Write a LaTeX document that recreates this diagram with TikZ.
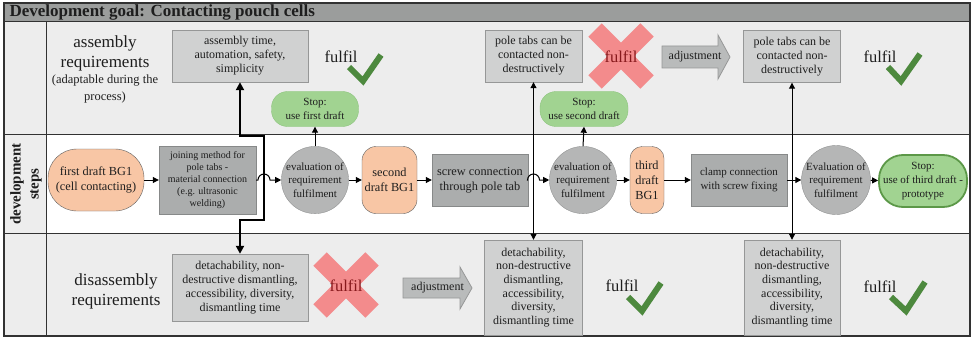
\documentclass[tikz,border=0pt]{standalone}
\usepackage{fontspec}
\setmainfont{Liberation Serif}
\usetikzlibrary{arrows.meta,calc,positioning}
\definecolor{lanegray}{RGB}{237,237,237}
\definecolor{titlegray}{RGB}{155,157,156}
\definecolor{frameline}{RGB}{50,50,50}
\definecolor{boxlight}{RGB}{208,209,209}
\definecolor{boxline}{RGB}{150,151,151}
\definecolor{boxdark}{RGB}{171,173,173}
\definecolor{darkline}{RGB}{135,137,137}
\definecolor{evalfill}{RGB}{181,182,182}
\definecolor{evalline}{RGB}{145,146,146}
\definecolor{draftfill}{RGB}{248,198,165}
\definecolor{draftline}{RGB}{95,95,95}
\definecolor{stopfill}{RGB}{161,211,145}
\definecolor{stopline}{RGB}{140,196,125}
\definecolor{stopdark}{RGB}{92,152,72}
\definecolor{checkgreen}{RGB}{77,137,62}
\definecolor{crossred}{RGB}{243,139,140}
\definecolor{failred}{RGB}{135,25,28}
\definecolor{adjfill}{RGB}{185,187,187}
\definecolor{txt}{RGB}{30,30,30}

\begin{document}
\begin{tikzpicture}[x=1pt, y=-1pt, every node/.style={align=center, text=txt}]
  \tikzset{
    lane/.style={draw=frameline, line width=0.9pt},
    reqbox/.style={draw=boxline, fill=boxlight, inner sep=1pt, font=\fontsize{12}{14}\selectfont},
    stepbox/.style={draw=darkline, fill=boxdark, inner sep=1pt},
    evalnode/.style={circle, draw=evalline, fill=evalfill, minimum size=67pt, inner sep=0pt, font=\fontsize{11}{13.5}\selectfont},
    draftnode/.style={draw=draftline, fill=draftfill, inner sep=1pt, font=\fontsize{12.3}{15}\selectfont},
    stopnode/.style={draw=stopline, fill=stopfill, rounded corners=16pt, minimum width=87pt, minimum height=35pt, inner sep=1pt, font=\fontsize{11}{14}\selectfont},
    bigtext/.style={font=\fontsize{17}{20}\selectfont},
    fulfiltext/.style={font=\fontsize{16.5}{18}\selectfont},
    failtext/.style={font=\fontsize{16.5}{18}\selectfont, text=failred},
    checkmark/.style={draw=checkgreen, line width=6pt, line join=miter},
    redcross/.style={draw=crossred, line width=19pt},
    adjarrow/.style={draw=boxline, fill=adjfill, line width=0.8pt},
    conn/.style={-{Triangle[length=6pt,width=6pt]}, line width=1pt},
    bothconn/.style={{Triangle[length=6pt,width=6pt]}-{Triangle[length=6pt,width=6pt]}, line width=1pt},
    mainconn/.style={{Triangle[length=8pt,width=8pt]}-{Triangle[length=8pt,width=8pt]}, line width=2pt}
  }
  \useasboundingbox (0,0) rectangle (973,342);

  % swimlanes
  \fill[lanegray] (4,21) rectangle (970,336);
  \fill[white] (46,134) rectangle (970,233);
  \fill[titlegray] (4,3) rectangle (970,21);
  \draw[lane] (4,21) -- (970,21) (4,134) -- (970,134) (4,233) -- (970,233) (46,21) -- (46,336);
  \draw[frameline, line width=1.4pt] (4,3) rectangle (970,336);
  \node[anchor=west, font=\bfseries\fontsize{17}{20}\selectfont] (title) at (6,12.5) {Development goal: Contacting pouch cells};
  \node[rotate=90, font=\bfseries\fontsize{15}{18}\selectfont] (devsteps) at (26,184) {development\\steps};

  % assembly requirements
  \node[bigtext] (asmlabel) at (105,53) {assembly\\requirements};
  \node[font=\fontsize{12.5}{17}\selectfont] (asmnote) at (105,89) {(adaptable during the\\process)};
  \node[reqbox, minimum width=136pt, minimum height=52pt] (asm1) at (240,56) {assembly time,\\automation, safety,\\simplicity};
  \node[fulfiltext] (ok1) at (341,57) {fulfil};
  \draw[checkmark] (349,67) -- (363,81) -- (381,55);
  \node[stopnode] (stop1) at (315,109) {Stop:\\use first draft};
  \node[reqbox, minimum width=97pt, minimum height=52pt] (pole1) at (533.5,56) {pole tabs can be\\contacted non-\\destructively};
  \draw[redcross] (595,30) -- (647,82) (595,82) -- (647,30);
  \node[failtext] (nok1) at (621,57) {fulfil};
  \node[stopnode, minimum width=88pt] (stop2) at (584,109) {Stop:\\use second draft};
  \draw[adjarrow] (662,46) -- (718,46) -- (718,35) -- (730,57) -- (718,79) -- (718,68) -- (662,68) -- cycle;
  \node[font=\fontsize{12}{14}\selectfont] (adj1) at (695,57) {adjustment};
  \node[reqbox, minimum width=97pt, minimum height=52pt] (pole2) at (792,56.5) {pole tabs can be\\contacted non-\\destructively};
  \node[fulfiltext] (ok2) at (880,57) {fulfil};
  \draw[checkmark] (888,67) -- (901,81) -- (920,54);

  % development steps
  \node[draftnode, rounded corners=29pt, minimum width=96pt, minimum height=62pt] (draft1) at (96,180) {first draft BG1\\(cell contacting)};
  \node[stepbox, minimum width=97pt, minimum height=68pt, font=\fontsize{10}{12}\selectfont] (join) at (207.5,180) {joining method for\\pole tabs -\\material connection\\(e.g. ultrasonic\\welding)};
  \node[evalnode] (eval1) at (315,180) {evaluation of\\requirement\\fulfilment};
  \node[draftnode, rounded corners=14pt, minimum width=55pt, minimum height=67pt] (draft2) at (389.5,180) {second\\draft BG1};
  \node[stepbox, minimum width=96pt, minimum height=52pt, font=\fontsize{12.3}{15}\selectfont] (screw) at (480,180) {screw connection\\through pole tab};
  \node[evalnode] (eval2) at (583,180) {evaluation of\\requirement\\fulfilment};
  \node[draftnode, rounded corners=12pt, minimum width=34pt, minimum height=67pt, inner sep=0pt] (draft3) at (647,180) {third\\draft\\BG1};
  \node[stepbox, minimum width=96pt, minimum height=52pt, font=\fontsize{11}{13.5}\selectfont] (clamp) at (739,180) {clamp connection\\with screw fixing};
  \node[evalnode] (eval3) at (836,180) {Evaluation of\\requirement\\fulfilment};
  \node[stopnode, draw=stopdark, line width=1.8pt, minimum width=88pt, minimum height=52pt, rounded corners=24pt] (stop3) at (923,181) {Stop:\\use of third draft -\\prototype};

  % disassembly requirements
  \node[bigtext] (dislabel) at (116,291) {disassembly\\requirements};
  \node[reqbox, minimum width=136pt, minimum height=67pt] (dis1) at (240,287.5) {detachability, non-\\destructive dismantling,\\accessibility, diversity,\\dismantling time};
  \draw[redcross] (320,259) -- (372,311) (320,311) -- (372,259);
  \node[failtext] (nok2) at (346,286) {fulfil};
  \draw[adjarrow] (403,278) -- (460,278) -- (460,267) -- (472,288) -- (460,309) -- (460,298) -- (403,298) -- cycle;
  \node[font=\fontsize{12}{14}\selectfont] (adj2) at (437.5,288) {adjustment};
  \node[reqbox, minimum width=98pt, minimum height=95pt, font=\fontsize{12}{13.7}\selectfont] (dis2) at (533.5,287.5) {detachability,\\non-destructive\\dismantling,\\accessibility,\\diversity,\\dismantling time};
  \node[fulfiltext] (ok3) at (622,286) {fulfil};
  \draw[checkmark] (628,297) -- (642,311) -- (661,283);
  \node[reqbox, minimum width=96pt, minimum height=95pt, font=\fontsize{12}{13.7}\selectfont] (dis3) at (792,287.5) {detachability,\\non-destructive\\dismantling,\\accessibility,\\diversity,\\dismantling time};
  \node[fulfiltext] (ok4) at (880,287) {fulfil};
  \draw[checkmark] (891,297) -- (906,311) -- (925,282);

  % connectors
  \coordinate (jogtop) at (264,136);
  \coordinate (jogbot) at (240,220);
  \draw[mainconn] (asm1.south) |- (jogtop) |- (jogbot) -- (dis1.north);
  \draw[bothconn] (pole1.south) -- (dis2.north);
  \draw[bothconn] (pole2.south) -- (dis3.north);
  \draw[conn] (eval1.north) -- (stop1.south);
  \draw[conn] (eval2.north) -- (stop2.south);
  \draw[conn] (draft1) -- (join);
  \draw[conn] (join.east) -- ($(join.east -| jogtop)+(-6,0)$) arc[start angle=180, end angle=360, radius=6] -- (eval1.west);
  \draw[conn] (eval1) -- (draft2);
  \draw[conn] (draft2) -- (screw);
  \draw[conn] (screw.east) -- ($(screw.east -| pole1.south)+(-6,0)$) arc[start angle=180, end angle=360, radius=6] -- (eval2.west);
  \draw[conn] (eval2) -- (draft3);
  \draw[conn] (draft3) -- (clamp);
  \draw[conn] (clamp) -- (eval3);
  \draw[conn] (eval3) -- (stop3);
\end{tikzpicture}
\end{document}
